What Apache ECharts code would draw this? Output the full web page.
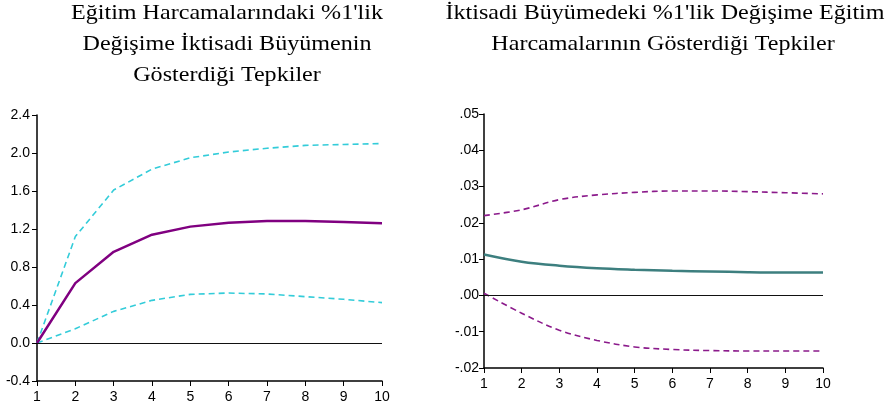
<!DOCTYPE html>
<html>
<head>
<meta charset="utf-8">
<script src="https://cdn.jsdelivr.net/npm/echarts@6/dist/echarts.min.js"></script>
<style>html,body{margin:0;padding:0;background:#fff}#c{width:890px;height:408px}</style>
</head>
<body>
<div id="c"></div>
<script>
var periods = [1,2,3,4,5,6,7,8,9,10];
var leftTitle = "Eğitim Harcamalarındaki %1'lik\nDeğişime İktisadi Büyümenin\nGösterdiği Tepkiler";
var rightTitleLine1 = "İktisadi Büyümedeki %1'lik Değişime Eğitim";
var rightTitleLine2 = "Harcamalarının Gösterdiği Tepkiler";
var leftMain  = [0, 0.63, 0.96, 1.14, 1.225, 1.267, 1.284, 1.284, 1.274, 1.26];
var leftUpper = [0, 1.12, 1.61, 1.83, 1.95, 2.01, 2.05, 2.08, 2.09, 2.10];
var leftLower = [0, 0.15, 0.333, 0.449, 0.512, 0.526, 0.516, 0.488, 0.46, 0.425];
var rightMain  = [0.0113, 0.0093, 0.0082, 0.0075, 0.0071, 0.0068, 0.0066, 0.0064, 0.0063, 0.0063];
var rightUpper = [0.0220, 0.0236, 0.0264, 0.0277, 0.0284, 0.0288, 0.0288, 0.0286, 0.0283, 0.0280];
var rightLower = [0.0006, -0.0049, -0.0096, -0.0124, -0.0142, -0.0149, -0.0152, -0.0153, -0.0153, -0.0153];

function pairs(v){ return periods.map(function(p,i){ return [p, v[i]]; }); }

var chart = echarts.init(document.getElementById('c'));
var axisColor = '#000';
var labelFont = {fontFamily:'Liberation Sans, Arial, sans-serif', fontSize:14, color:'#000'};
function xAx(gi){
  return {type:'value', gridIndex:gi, min:1, max:10, interval:1,
    axisLine:{show:true, onZero:false, lineStyle:{color:axisColor, width:1.5}},
    axisTick:{show:true, inside:false, length:5, lineStyle:{color:axisColor}},
    axisLabel:Object.assign({margin:9}, labelFont),
    splitLine:{show:false}};
}
function yAx(gi, min, max, interval, fmt, margin){
  return {type:'value', gridIndex:gi, min:min, max:max, interval:interval,
    axisLine:{show:true, onZero:false, lineStyle:{color:axisColor, width:1.5}},
    axisTick:{show:true, inside:false, length:5, lineStyle:{color:axisColor}},
    axisLabel:Object.assign({margin:margin, formatter:fmt}, labelFont),
    splitLine:{show:false}};
}
var zeroLine = {silent:true, symbol:['none','none'], label:{show:false},
  lineStyle:{color:'#111', width:1, type:'solid'}, data:[{yAxis:0}], animation:false};
var titleStyle = {fontFamily:'Liberation Serif, Times New Roman, serif', fontSize:21.5, lineHeight:31, fill:'#000', align:'center', verticalAlign:'top'};

chart.setOption({
  animation:false,
  graphic:[
    {type:'text', x:227, y:-2, scaleX:1.12, silent:true, style:Object.assign({text:leftTitle}, titleStyle)},
    {type:'text', x:665, y:-2, scaleX:1.12, silent:true, style:Object.assign({text:rightTitleLine1}, titleStyle)},
    {type:'text', x:663, y:29, scaleX:1.12, silent:true, style:Object.assign({text:rightTitleLine2}, titleStyle)}
  ],
  grid:[
    {left:37, right:508, top:115, bottom:27},
    {left:484, right:67, top:114, bottom:40}
  ],
  xAxis:[xAx(0), xAx(1)],
  yAxis:[
    yAx(0, -0.4, 2.4, 0.4, function(v){ return v.toFixed(1); }, 7),
    yAx(1, -0.02, 0.05, 0.01, function(v){ var s = Math.abs(v).toFixed(2).replace(/^0/, ''); return (v < -1e-9 ? '-' : '') + s; }, 5)
  ],
  series:[
    {type:'line', xAxisIndex:0, yAxisIndex:0, data:pairs(leftUpper), symbol:'none',
     lineStyle:{color:'#33CCD9', width:1.6, type:[6,4]}},
    {type:'line', xAxisIndex:0, yAxisIndex:0, data:pairs(leftLower), symbol:'none',
     lineStyle:{color:'#33CCD9', width:1.6, type:[6,4]}},
    {type:'line', xAxisIndex:0, yAxisIndex:0, data:pairs(leftMain), symbol:'none',
     lineStyle:{color:'#800080', width:2.5}, markLine:zeroLine, z:3},
    {type:'line', xAxisIndex:1, yAxisIndex:1, data:pairs(rightUpper), symbol:'none', smooth:0.35,
     lineStyle:{color:'#8B1A8B', width:1.6, type:[6,4]}},
    {type:'line', xAxisIndex:1, yAxisIndex:1, data:pairs(rightLower), symbol:'none', smooth:0.35,
     lineStyle:{color:'#8B1A8B', width:1.6, type:[6,4]}},
    {type:'line', xAxisIndex:1, yAxisIndex:1, data:pairs(rightMain), symbol:'none', smooth:0.35,
     lineStyle:{color:'#3D7F7F', width:2.5}, markLine:zeroLine, z:3}
  ]
});
</script>
</body>
</html>
